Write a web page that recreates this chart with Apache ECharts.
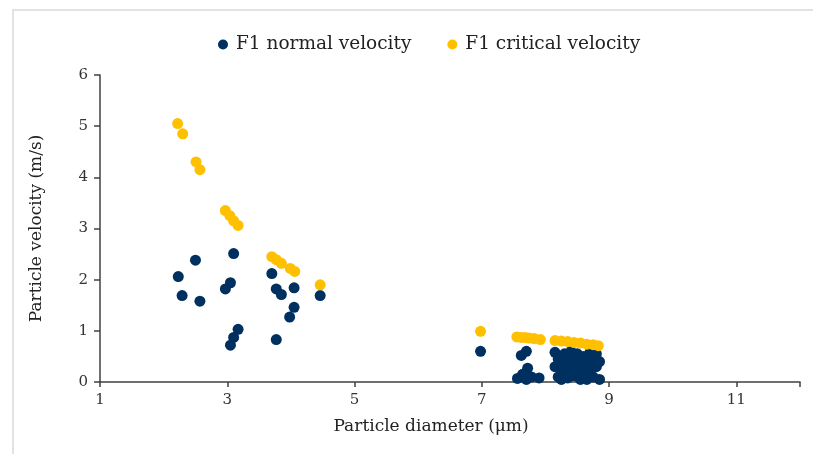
<!DOCTYPE html>
<html>
<head>
<meta charset="utf-8">
<script src="https://cdn.jsdelivr.net/npm/echarts@6/dist/echarts.min.js"></script>
<style>
  html, body { margin: 0; padding: 0; background: #fff; }
  #chart { width: 813px; height: 454px; }
</style>
</head>
<body>
<div id="chart"></div>
<script>
// values: [diameter µm, velocity m/s]
const normalVelocity = [
  [2.23, 2.06], [2.29, 1.69], [2.50, 2.38], [2.57, 1.58],
  [2.97, 1.82], [3.05, 1.94], [3.10, 2.51], [3.17, 1.03], [3.10, 0.87], [3.05, 0.72],
  [3.70, 2.12], [3.77, 1.82], [3.85, 1.71], [4.05, 1.84], [4.05, 1.46], [3.98, 1.27],
  [3.77, 0.83], [4.46, 1.69],
  [6.98, 0.60],
  [7.62, 0.52], [7.70, 0.60], [7.72, 0.27], [7.64, 0.15], [7.56, 0.07], [7.70, 0.05],
  [7.78, 0.10], [7.90, 0.08],
  [8.15, 0.58], [8.20, 0.45], [8.15, 0.30], [8.20, 0.10], [8.25, 0.05], [8.30, 0.55],
  [8.30, 0.35], [8.35, 0.20], [8.35, 0.08], [8.40, 0.60], [8.40, 0.45], [8.45, 0.30],
  [8.45, 0.12], [8.50, 0.55], [8.50, 0.40], [8.55, 0.25], [8.55, 0.05], [8.60, 0.50],
  [8.60, 0.15], [8.65, 0.38], [8.65, 0.05], [8.70, 0.58], [8.70, 0.25], [8.75, 0.45],
  [8.75, 0.10], [8.80, 0.55], [8.80, 0.30], [8.85, 0.05], [8.85, 0.40], [8.25, 0.25],
  [8.40, 0.20], [8.60, 0.32]
];
const criticalVelocity = [
  [2.22, 5.05], [2.30, 4.85], [2.51, 4.30], [2.57, 4.15],
  [2.97, 3.35], [3.04, 3.25], [3.10, 3.15], [3.17, 3.06],
  [3.70, 2.45], [3.77, 2.39], [3.85, 2.32], [3.99, 2.22], [4.06, 2.16],
  [4.46, 1.90],
  [6.98, 0.99],
  [7.55, 0.88], [7.62, 0.87], [7.68, 0.87], [7.74, 0.86], [7.82, 0.85], [7.92, 0.83],
  [8.15, 0.81], [8.25, 0.80], [8.35, 0.79], [8.45, 0.77], [8.55, 0.76], [8.65, 0.74],
  [8.75, 0.73], [8.83, 0.71]
];
const seriesNames = ["F1 normal velocity", "F1 critical velocity"];

const font = "'DejaVu Serif', 'Liberation Serif', serif";
const axisColor = "#404040";
const chart = echarts.init(document.getElementById("chart"), null, { renderer: "canvas" });

chart.setOption({
  animation: false,
  color: ["#00305f", "#ffc000"],
  graphic: [{
    type: "rect",
    shape: { x: 13, y: 10, width: 820, height: 460 },
    style: { fill: "none", stroke: "#e2e2e2", lineWidth: 2 },
  }],
  legend: {
    top: 30,
    left: 213,
    itemGap: 36,
    itemWidth: 10,
    itemHeight: 10,
    icon: "circle",
    textStyle: { fontFamily: font, fontSize: 18.5, color: "#222", padding: [0, 0, 0, 3] },
    data: seriesNames,
  },
  grid: { left: 100, right: 13, top: 75, bottom: 72 },
  xAxis: {
    type: "value",
    min: 1,
    max: 12,
    interval: 2,
    name: "Particle diameter (μm)",
    nameLocation: "middle",
    nameGap: 36,
    nameTextStyle: { fontFamily: font, fontSize: 17, color: "#222", padding: [0, 38, 0, 0] },
    axisLine: { show: true, lineStyle: { color: axisColor, width: 1.5 } },
    axisTick: { show: true, length: 5, lineStyle: { color: axisColor, width: 1.5 } },
    axisLabel: { fontFamily: font, fontSize: 15, color: "#333", margin: 11,
      formatter: (v) => (v === 12 ? "" : v) },
    splitLine: { show: false },
  },
  yAxis: {
    type: "value",
    min: 0,
    max: 6,
    interval: 1,
    name: "Particle velocity (m/s)",
    nameLocation: "middle",
    nameGap: 55,
    nameTextStyle: { fontFamily: font, fontSize: 17, color: "#222" },
    axisLine: { show: true, lineStyle: { color: axisColor, width: 1.5 } },
    axisTick: { show: true, length: 6, lineStyle: { color: axisColor, width: 1.5 } },
    axisLabel: { fontFamily: font, fontSize: 15, color: "#333", margin: 12 },
    splitLine: { show: false },
  },
  series: [
    {
      name: seriesNames[0],
      type: "scatter",
      data: normalVelocity,
      symbolSize: 11,
      itemStyle: { opacity: 1 },
    },
    {
      name: seriesNames[1],
      type: "scatter",
      data: criticalVelocity,
      symbolSize: 11,
      itemStyle: { opacity: 1 },
    },
  ],
});
</script>
</body>
</html>
